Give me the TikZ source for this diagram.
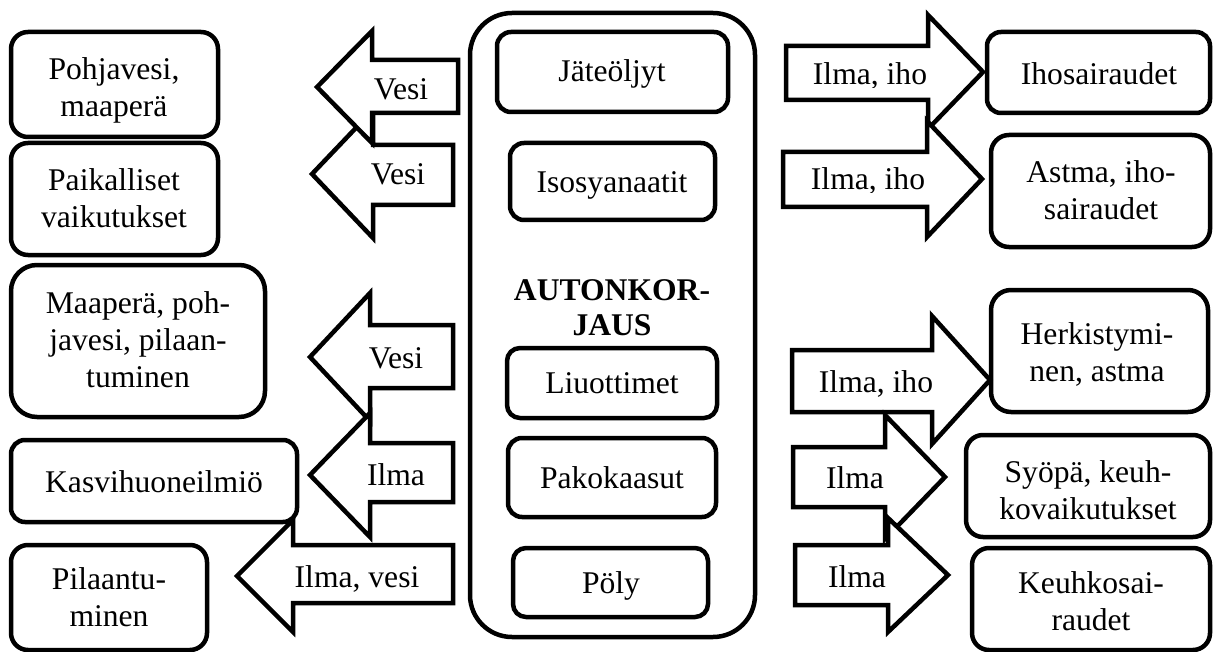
\documentclass[tikz,border=0pt]{standalone}
\usepackage{fontspec}
\setmainfont{Liberation Serif}
\usetikzlibrary{fit}
\tikzset{
  bx/.style={draw, line width=4.5pt, rounded corners=#1, inner sep=0pt},
  txt/.style={align=center, inner sep=0pt, anchor=base},
  blk/.style={draw, line width=4.5pt, fill=white, line join=miter, miter limit=10},
}
\newcommand\barrow[7]{%
  \draw[blk] (#1,#2) -- (#3,{#2-#4}) -- (#3,#5) -- (#7,#5) -- (#7,#6) -- (#3,#6) -- (#3,{#2+#4}) -- cycle;}
\begin{document}
\begin{tikzpicture}[x=1pt,y=-1pt,font=\fontsize{31.6}{37}\selectfont]
\useasboundingbox (0,0) rectangle (1214,652);

% central block
\node[bx=42pt, fit={(470,13) (755,637)}] (big) {};
\node[bx=14pt, fit={(497,32) (728,112)}] (c1) {};
\node[txt] (c1t) at (612,82) {Jäteöljyt};
\node[bx=14pt, fit={(510,143) (715,220)}] (c2) {};
\node[txt] (c2t) at (612,193) {Isosyanaatit};
\node[txt,font=\fontsize{31.6}{35}\selectfont\bfseries] (title) at (612,335) {AUTONKOR-\\JAUS};
\node[bx=13pt, fit={(507,348) (717,418)}] (c3) {};
\node[txt] (c3t) at (612,393) {Liuottimet};
\node[bx=14pt, fit={(508,438) (716,517)}] (c4) {};
\node[txt] (c4t) at (612,488) {Pakokaasut};
\node[bx=13pt, fit={(513,548) (708,617)}] (c5) {};
\node[txt] (c5t) at (611,593) {Pöly};

% left boxes (base anchor = baseline of last line)
\node[bx=17pt, fit={(11,32) (218,137)}] (b1) {};
\node[txt] (b1t) at (114,117) {Pohjavesi,\\maaperä};
\node[bx=17pt, fit={(11,143) (218,255)}] (b2) {};
\node[txt] (b2t) at (114,228) {Paikalliset\\vaikutukset};
\node[bx=26pt, fit={(11,265) (265,417)}] (b3) {};
\node[txt] (b3t) at (138,387) {Maaperä, poh-\\javesi, pilaan-\\tuminen};
\node[bx=14pt, fit={(11,440) (297,522)}] (b4) {};
\node[txt] (b4t) at (154,492) {Kasvihuoneilmiö};
\node[bx=17pt, fit={(11,545) (207,650)}] (b5) {};
\node[txt] (b5t) at (109,626) {Pilaantu-\\minen};

% right boxes
\node[bx=14pt, fit={(987,32) (1210,113)}] (d1) {};
\node[txt] (d1t) at (1099,85) {Ihosairaudet};
\node[bx=18pt, fit={(991,135) (1210,247)}] (d2) {};
\node[txt] (d2t) at (1101,220) {Astma, iho-\\sairaudet};
\node[bx=20pt, fit={(991,290) (1208,412)}] (d3) {};
\node[txt] (d3t) at (1097,381) {Herkistymi-\\nen, astma};
\node[bx=17pt, fit={(966,435) (1210,537)}] (d4) {};
\node[txt] (d4t) at (1088,519) {Syöpä, keuh-\\kovaikutukset};
\node[bx=17pt, fit={(972,548) (1210,650)}] (d5) {};
\node[txt] (d5t) at (1091,630) {Keuhkosai-\\raudet};

% left block arrows
\barrow{312}{174}{373}{64}{145}{205}{453}
\barrow{317}{87}{372}{56}{60}{113}{458}
\barrow{310}{357}{370}{64}{325}{388}{453}
\barrow{310}{475}{370}{62}{443}{502}{453}
\barrow{237}{576}{293}{56}{545}{603}{453}
\node[txt] (l1) at (401,100) {Vesi};
\node[txt] (l2) at (398,185) {Vesi};
\node[txt] (l3) at (396,368) {Vesi};
\node[txt] (l4) at (396,485) {Ilma};
\node[txt] (l5) at (357,587) {Ilma, vesi};

% right block arrows
\barrow{983}{72}{928}{57}{46}{100}{786}
\barrow{982}{179}{927}{58}{152}{207}{783}
\barrow{990}{380}{932}{64}{350}{412}{792}
\barrow{945}{477}{885}{62}{447}{507}{793}
\barrow{948}{575}{888}{57}{545}{605}{795}
\begin{scope}
  \clip (795,50) rectangle (925,87.5);
  \node[txt] (r1) at (870,85) {Ilma, iho};
\end{scope}
\begin{scope}
  \clip (792,155) rectangle (924,192.5);
  \node[txt] (r2) at (868,190) {Ilma, iho};
\end{scope}
\node[txt] (r3) at (876,392) {Ilma, iho};
\node[txt] (r4) at (855,488) {Ilma};
\node[txt] (r5) at (857,587) {Ilma};
\end{tikzpicture}
\end{document}
